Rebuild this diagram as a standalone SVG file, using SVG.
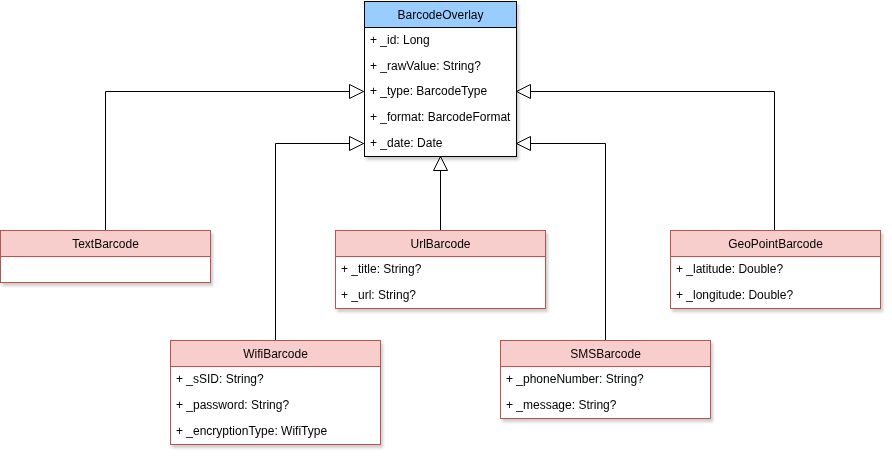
<svg xmlns="http://www.w3.org/2000/svg" width="892" height="459" viewBox="0 0 892 459">
<style>
text{font-family:"Liberation Sans",Arial,sans-serif;font-size:12px;fill:#000}
.t{text-anchor:middle;font-size:12px}
.pinkh{fill:#f8cecc;stroke:#b85450;stroke-width:1}
.pinkb{fill:#fff;stroke:#b85450;stroke-width:1}
.blueh{fill:#99ccff;stroke:#000;stroke-width:1}
.blueb{fill:#fff;stroke:#000;stroke-width:1}
.c{fill:none;stroke:#000;stroke-width:1}
</style>
<defs>
<filter id="sh" x="-10%" y="-10%" width="130%" height="130%">
<feGaussianBlur in="SourceAlpha" stdDeviation="1.5"/>
<feOffset dx="2" dy="3" result="b"/>
<feComponentTransfer><feFuncA type="linear" slope="0.2"/></feComponentTransfer>
<feMerge><feMergeNode/><feMergeNode in="SourceGraphic"/></feMerge>
</filter>
<marker id="tri" markerWidth="16" markerHeight="16" viewBox="0 0 16 16" refX="15" refY="8" orient="auto" markerUnits="userSpaceOnUse">
<path d="M1,1 L15,8 L1,15 Z" fill="#fff" stroke="#000" stroke-width="1"/>
</marker>
</defs>
<g id="connectors">
<path class="c" d="M105.5,231 V91.5 H363.5" marker-end="url(#tri)"/>
<path class="c" d="M275.5,341 V143.5 H363.5" marker-end="url(#tri)"/>
<path class="c" d="M440.5,231 V156.5" marker-end="url(#tri)"/>
<path class="c" d="M605.5,341 V143.5 H516.5" marker-end="url(#tri)"/>
<path class="c" d="M774.5,231 V91.5 H516.5" marker-end="url(#tri)"/>
</g>
<g id="BarcodeOverlay" filter="url(#sh)">
<rect class="blueb" x="364.5" y="1.5" width="152" height="155"/>
<rect class="blueh" x="364.5" y="1.5" width="152" height="26"/>
<text class="t" x="440.5" y="19">BarcodeOverlay</text>
<text x="370" y="44">+ _id: Long</text>
<text x="370" y="70">+ _rawValue: String?</text>
<text x="370" y="95">+ _type: BarcodeType</text>
<text x="370" y="121">+ _format: BarcodeFormat</text>
<text x="370" y="147">+ _date: Date</text>
</g>
<g id="TextBarcode" filter="url(#sh)">
<rect class="pinkb" x="0.5" y="230.5" width="210" height="52"/>
<rect class="pinkh" x="0.5" y="230.5" width="210" height="26"/>
<text class="t" x="105.5" y="248">TextBarcode</text>
</g>
<g id="UrlBarcode" filter="url(#sh)">
<rect class="pinkb" x="335.5" y="230.5" width="210" height="78"/>
<rect class="pinkh" x="335.5" y="230.5" width="210" height="26"/>
<text class="t" x="440.5" y="248">UrlBarcode</text>
<text x="341" y="273">+ _title: String?</text>
<text x="341" y="299">+ _url: String?</text>
</g>
<g id="GeoPointBarcode" filter="url(#sh)">
<rect class="pinkb" x="670.5" y="230.5" width="210" height="78"/>
<rect class="pinkh" x="670.5" y="230.5" width="210" height="26"/>
<text class="t" x="775.5" y="248">GeoPointBarcode</text>
<text x="676" y="273">+ _latitude: Double?</text>
<text x="676" y="299">+ _longitude: Double?</text>
</g>
<g id="WifiBarcode" filter="url(#sh)">
<rect class="pinkb" x="170.5" y="340.5" width="210" height="104"/>
<rect class="pinkh" x="170.5" y="340.5" width="210" height="26"/>
<text class="t" x="275.5" y="358">WifiBarcode</text>
<text x="176" y="383">+ _sSID: String?</text>
<text x="176" y="409">+ _password: String?</text>
<text x="176" y="435">+ _encryptionType: WifiType</text>
</g>
<g id="SMSBarcode" filter="url(#sh)">
<rect class="pinkb" x="500.5" y="340.5" width="210" height="78"/>
<rect class="pinkh" x="500.5" y="340.5" width="210" height="26"/>
<text class="t" x="605.5" y="358">SMSBarcode</text>
<text x="506" y="383">+ _phoneNumber: String?</text>
<text x="506" y="409">+ _message: String?</text>
</g>
</svg>
